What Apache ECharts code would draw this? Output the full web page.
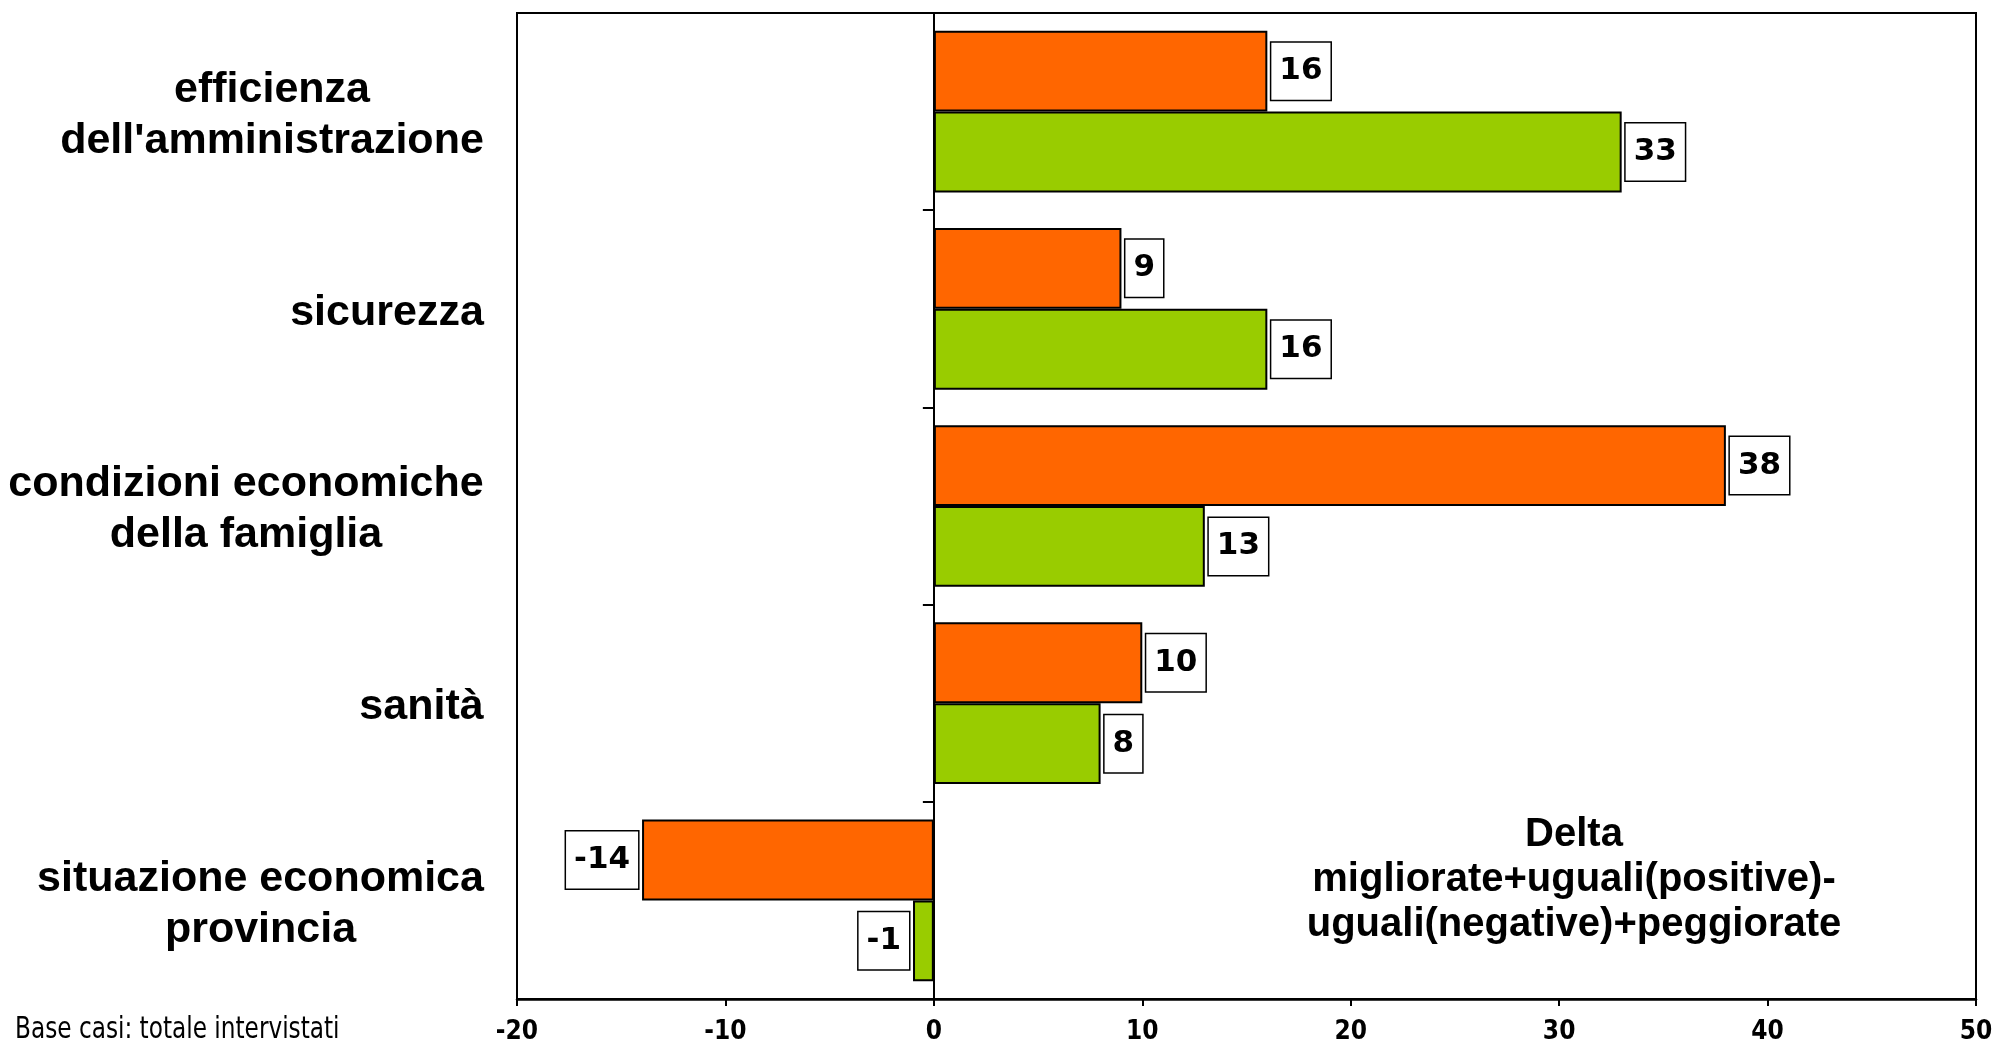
<!DOCTYPE html>
<html>
<head>
<meta charset="utf-8">
<script src="https://cdn.jsdelivr.net/npm/echarts@6/dist/echarts.min.js"></script>
<style>
  html, body { margin: 0; padding: 0; background: #fff; }
  #chart { width: 1993px; height: 1049px; }
</style>
</head>
<body>
<div id="chart"></div>
<script>
// Categories (top to bottom) and the two delta series
const categories = [
  "efficienza\ndell'amministrazione",
  "sicurezza",
  "condizioni economiche\ndella famiglia",
  "sanità",
  "situazione economica\nprovincia"
];
const seriesOrange = [16, 9, 38, 10, -14];
const seriesGreen = [33, 16, 13, 8, -1];
const xTicks = { min: -20, max: 50, interval: 10 };

const catFamily = '"Liberation Sans", Arial, sans-serif';
const catSize = 43;
const narrowFamily = '"Liberation Sans Narrow", "Arial Narrow", "DejaVu Sans Condensed", sans-serif';

// Measure the widest line of each category label so its lines can be centred
// within a right-aligned block.
const measureCtx = document.createElement('canvas').getContext('2d');
measureCtx.font = 'bold ' + catSize + 'px ' + catFamily;
const rich = {};
categories.forEach(function (c, i) {
  const w = Math.max.apply(null, c.split('\n').map(function (l) { return measureCtx.measureText(l).width; }));
  rich['c' + i] = {
    width: Math.ceil(w) + 2,
    align: 'center',
    fontSize: catSize,
    fontWeight: 'bold',
    fontFamily: catFamily,
    color: '#000',
    lineHeight: 51
  };
});

function toData(values) {
  return values.map(function (v) {
    return { value: v, label: { position: v < 0 ? 'left' : 'right' } };
  });
}

const valueLabel = {
  show: true,
  distance: 4,
  color: '#000',
  fontFamily: '"DejaVu Sans", Verdana, sans-serif',
  fontWeight: 'bold',
  fontSize: 31,
  lineHeight: 31,
  backgroundColor: '#fff',
  borderColor: '#000',
  borderWidth: 1.5,
  padding: [13, 8, 13, 8]
};

const chart = echarts.init(document.getElementById('chart'), null, { renderer: 'canvas' });
chart.setOption({
  animation: false,
  backgroundColor: '#fff',
  grid: {
    left: 517, right: 17, top: 13, bottom: 50,
    containLabel: false,
    outerBoundsMode: 'none',
    show: true, borderColor: '#000', borderWidth: 2, backgroundColor: 'transparent'
  },
  xAxis: {
    type: 'value',
    min: xTicks.min, max: xTicks.max, interval: xTicks.interval,
    axisLine: { show: true, lineStyle: { color: '#000', width: 2.5 } },
    axisTick: { show: true, length: 7, lineStyle: { color: '#000', width: 2 } },
    splitLine: { show: false },
    axisLabel: {
      margin: 20, color: '#000', fontSize: 26, fontWeight: 'bold',
      fontFamily: narrowFamily
    }
  },
  yAxis: [
    {
      type: 'category',
      data: categories,
      inverse: true,
      position: 'left',
      axisLine: { show: false, onZero: false },
      axisTick: { show: false },
      axisLabel: {
        margin: 32,
        padding: [8, 0, 0, 0],
        formatter: function (value, idx) {
          return value.split('\n').map(function (l) { return '{c' + idx + '|' + l + '}'; }).join('\n');
        },
        rich: rich
      }
    },
    {
      type: 'category',
      data: categories,
      inverse: true,
      position: 'right',
      axisLine: { show: true, onZero: true, lineStyle: { color: '#000', width: 2 } },
      axisTick: { show: true, inside: true, length: 11, lineStyle: { color: '#000', width: 2 } },
      axisLabel: { show: false }
    }
  ],
  series: [
    {
      type: 'bar',
      yAxisIndex: 0,
      data: toData(seriesOrange),
      barGap: '0%',
      barCategoryGap: '18%',
      itemStyle: { color: '#FF6600', borderColor: '#000', borderWidth: 2 },
      label: valueLabel
    },
    {
      type: 'bar',
      yAxisIndex: 0,
      data: toData(seriesGreen),
      barGap: '0%',
      barCategoryGap: '18%',
      itemStyle: { color: '#99CC00', borderColor: '#000', borderWidth: 2 },
      label: valueLabel
    }
  ],
  graphic: [
    {
      type: 'text',
      x: 1574, y: 812,
      style: {
        text: 'Delta\nmigliorate+uguali(positive)-\nuguali(negative)+peggiorate',
        textAlign: 'center',
        textVerticalAlign: 'top',
        font: 'bold 40px "Liberation Sans", Arial, sans-serif',
        lineHeight: 45,
        fill: '#000'
      }
    },
    {
      type: 'text',
      x: 15, y: 1015,
      scaleX: 0.86,
      style: {
        text: 'Base casi: totale intervistati',
        font: '30px ' + narrowFamily,
        fill: '#000'
      }
    }
  ]
});
</script>
</body>
</html>
